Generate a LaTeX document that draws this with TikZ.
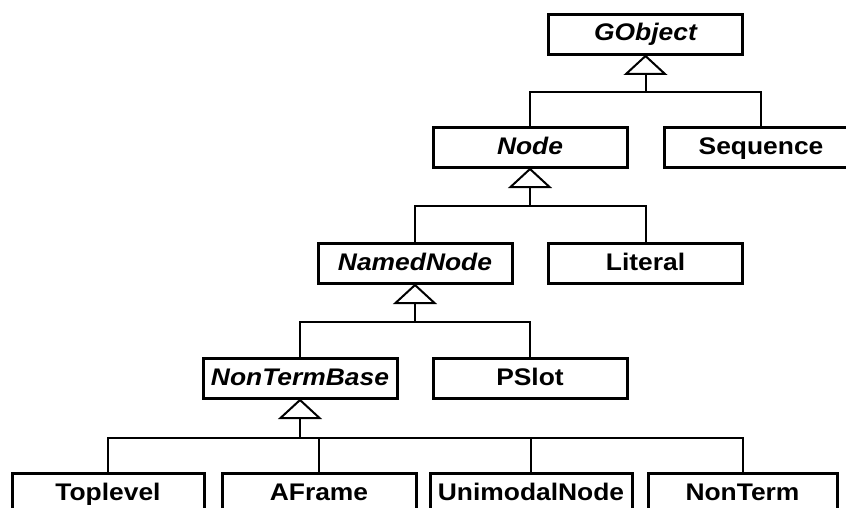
\documentclass[tikz,border=0pt]{standalone}
\usepackage{fontspec}
\setmainfont[FakeStretch=1.1]{Liberation Sans}
\usetikzlibrary{calc}
\begin{document}
\begin{tikzpicture}[x=1pt,y=-1pt,
  cls/.style={draw, line width=3pt, minimum height=40pt, minimum width=194pt,
    inner sep=0pt, anchor=north, text height=17pt, text depth=4pt,
    font=\fontsize{24}{28}\selectfont\bfseries},
  abstractcls/.style={cls, font=\fontsize{24}{28}\selectfont\bfseries\itshape},
  link/.style={line width=2pt},
  inherit/.style={line width=2pt, fill=white, line join=miter}]
\useasboundingbox (0,0) rectangle (846,508);
\clip (0,0) rectangle (846,508);

% classes
\node[abstractcls] (GObject)     at (645.5,13)  {GObject};
\node[abstractcls] (Node)        at (530,126)   {Node};
\node[cls]         (Sequence)    at (761,126)   {Sequence};
\node[abstractcls] (NamedNode)   at (415,242)   {NamedNode};
\node[cls]         (Literal)     at (645.5,242) {Literal};
\node[abstractcls] (NonTermBase) at (300,357)   {NonTermBase};
\node[cls]         (PSlot)       at (530,357)   {PSlot};
\node[cls, minimum width=192pt] (Toplevel)     at (108,472)   {Toplevel};
\node[cls]                      (AFrame)       at (319,472)   {AFrame};
\node[cls, minimum width=202pt] (UnimodalNode) at (531,472)   {UnimodalNode};
\node[cls, minimum width=189pt] (NonTerm)      at (742.5,472) {NonTerm};

% bus points of the generalisation trees
\coordinate (busG) at ($(GObject.south)+(0,36)$);
\coordinate (busN) at ($(Node.south)+(0,37)$);
\coordinate (busNN) at ($(NamedNode.south)+(0,37)$);
\coordinate (busNT) at ($(NonTermBase.south)+(0,38)$);

% generalisation triangles with their stems
\foreach \p/\b in {GObject/busG, Node/busN, NamedNode/busNN, NonTermBase/busNT}{
  \draw[link] ($(\p.south)+(0,18)$) -- (\b);
  \draw[inherit] (\p.south) -- ++(-19.5,18) -- ++(39,0) -- cycle;
}

% subclass connectors
\draw[link] (Node.north) |- (busG) -| (Sequence.north);
\draw[link] (NamedNode.north) |- (busN) -| (Literal.north);
\draw[link] (NonTermBase.north) |- (busNN) -| (PSlot.north);
\draw[link] (Toplevel.north) |- (busNT) -| (NonTerm.north);
\draw[link] (AFrame.north) -- (AFrame.north |- busNT);
\draw[link] (UnimodalNode.north) -- (UnimodalNode.north |- busNT);
\end{tikzpicture}
\end{document}
